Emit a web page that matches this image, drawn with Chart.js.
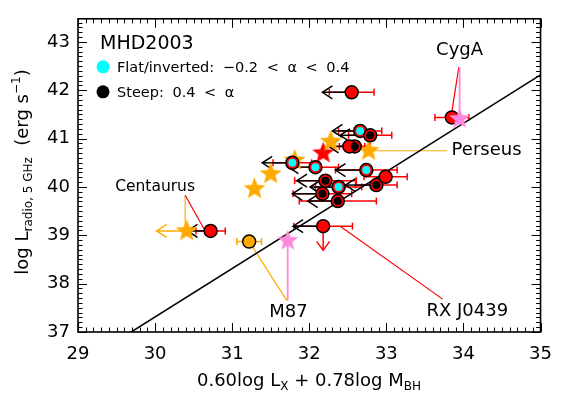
<!DOCTYPE html>
<html>
<head>
<meta charset="utf-8">
<script src="https://cdn.jsdelivr.net/npm/chart.js@4/dist/chart.umd.min.js"></script>
<style>
  html, body { margin: 0; padding: 0; background: #fff; }
</style>
</head>
<body>
<canvas id="myChart" width="564" height="394"></canvas>
<script>
// Graphe MHD2003 : log L_radio vs 0.60 log Lx + 0.78 log Mbh

const FONT = '"DejaVu Sans", sans-serif';

const xTicks = [29, 30, 31, 32, 33, 34, 35];
const yTicks = [37, 38, 39, 40, 41, 42, 43];

// fundamental plane fit (ends)
const fitX = [29.69, 35.0];
const fitY = [37.0, 42.32];

// plain red circles (x error, upper limit arrow tip)
const redX   = [32.55, 32.52, 32.99, 32.18, 30.72, 33.85];
const redY   = [41.96, 40.84, 40.21, 39.19, 39.09, 41.44];
const redErr = [0.29, 0.20, 0.28, 0.38, 0.19, 0.22];
const redLim = [32.17, 32.25, null, 31.79, 30.42, null];

// steep spectrum sources
const steepX   = [32.79, 32.59, 32.87, 32.21, 32.17, 32.37];
const steepY   = [41.07, 40.84, 40.04, 40.13, 39.86, 39.71];
const steepErr = [0.28, 0.20, 0.27, 0.40, 0.38, 0.50];
const steepLim = [32.40, null, 32.47, 31.84, 31.78, 31.98];

// flat / inverted spectrum sources
const flatX   = [32.66, 31.78, 32.08, 32.74, 32.38];
const flatY   = [41.16, 40.50, 40.41, 40.35, 40.00];
const flatErr = [0.28, 0.25, 0.30, 0.40, 0.30];
const flatLim = [32.30, 31.39, 31.73, 32.34, 32.01];

// stars
const orangeStarX = [32.28, 32.77, 31.81, 31.50, 31.29, 30.41];
const orangeStarY = [40.94, 40.75, 40.55, 40.27, 39.96, 39.09];
const redStarX = [32.18];
const redStarY = [40.70];
const pinkStarX = [31.72, 33.95];
const pinkStarY = [38.89, 41.41];

// M87 orange circle
const m87X = [31.22];
const m87Y = [38.87];
const m87Err = [0.16];

// Centaurus orange limit
const cenLimFrom = 30.41;
const cenLimTo = 30.02;
// RX J0439 radio upper limit
const rxLimY = 38.69;

// labels [text, x, y, size]
const labels = [
  ["CygA", 33.95, 42.82, 18],
  ["Perseus", 34.3, 40.75, 18],
  ["Centaurus", 30.0, 40.0, 15.5],
  ["M87", 31.73, 37.4, 18],
  ["RX J0439", 34.05, 37.43, 18]
];

const RED = "#ff0000";
const ORANGE = "#ffaa00";
const PINK = "#ff88dd";
const CYAN = "#00ffff";

function makeStar(r, fill) {
  const c = document.createElement("canvas");
  c.width = c.height = 2 * r + 2;
  const g = c.getContext("2d");
  g.beginPath();
  for (let i = 0; i < 10; i++) {
    const rr = i % 2 === 0 ? r : r * 0.43;
    const a = -Math.PI / 2 + i * Math.PI / 5;
    const px = r + 1 + rr * Math.cos(a);
    const py = r + 1 + rr * Math.sin(a);
    if (i === 0) g.moveTo(px, py); else g.lineTo(px, py);
  }
  g.closePath();
  g.fillStyle = fill;
  g.fill();
  return c;
}

function pts(xs, ys) {
  return xs.map((x, i) => ({ x: x, y: ys[i] }));
}

const circleStyle = {
  pointStyle: "circle",
  pointRadius: 6.5,
  pointBackgroundColor: RED,
  pointBorderColor: "#000",
  pointBorderWidth: 1.5,
  showLine: false
};

const data = {
  datasets: [
    { type: "line", data: pts(fitX, fitY), borderColor: "#000", borderWidth: 1.5, pointRadius: 0, order: 10 },
    { data: pts(orangeStarX, orangeStarY), pointStyle: makeStar(11.5, ORANGE), order: 8 },
    { data: pts(redStarX, redStarY), pointStyle: makeStar(11.5, RED), order: 8 },
    Object.assign({ data: pts(m87X, m87Y), order: 7 }, circleStyle, { pointBackgroundColor: ORANGE }),
    Object.assign({ data: pts(redX, redY), order: 6 }, circleStyle),
    Object.assign({ data: pts(steepX, steepY), order: 6 }, circleStyle),
    Object.assign({ data: pts(flatX, flatY), order: 6 }, circleStyle),
    { data: pts(steepX, steepY), pointRadius: 4, pointBackgroundColor: "#000", pointBorderWidth: 0, order: 5 },
    { data: pts(flatX, flatY), pointRadius: 4, pointBackgroundColor: CYAN, pointBorderWidth: 0, order: 5 },
    { data: pts(pinkStarX, pinkStarY), pointStyle: makeStar(11, PINK), order: 4 }
  ]
};

function line(ctx, x0, y0, x1, y1) {
  ctx.beginPath();
  ctx.moveTo(x0, y0);
  ctx.lineTo(x1, y1);
  ctx.stroke();
}

function errBar(ctx, xs, ys, x, y, e, color) {
  const a = xs.getPixelForValue(x - e), b = xs.getPixelForValue(x + e), py = ys.getPixelForValue(y);
  ctx.strokeStyle = color;
  line(ctx, a, py, b, py);
  line(ctx, a, py - 3.5, a, py + 3.5);
  line(ctx, b, py - 3.5, b, py + 3.5);
}

function leftArrow(ctx, xs, ys, x, y, tip, color) {
  const a = xs.getPixelForValue(x), t = xs.getPixelForValue(tip), py = ys.getPixelForValue(y);
  ctx.strokeStyle = color;
  line(ctx, a, py, t, py);
  ctx.beginPath();
  ctx.moveTo(t + 10, py - 6.5);
  ctx.lineTo(t, py);
  ctx.lineTo(t + 10, py + 6.5);
  ctx.stroke();
}

// text with sub / superscripts: parts = [[text, size, dy]]
function richText(ctx, parts, x, y) {
  let w = 0;
  parts.forEach((p) => { ctx.font = p[1] + "px " + FONT; w += ctx.measureText(p[0]).width; });
  let cx = x - w / 2;
  ctx.textAlign = "left";
  ctx.textBaseline = "alphabetic";
  parts.forEach((p) => {
    ctx.font = p[1] + "px " + FONT;
    ctx.fillText(p[0], cx, y + p[2]);
    cx += ctx.measureText(p[0]).width;
  });
}

const marksPlugin = {
  id: "marks",
  beforeDatasetsDraw(chart) {
    const ctx = chart.ctx, xs = chart.scales.x, ys = chart.scales.y;
    const X = (v) => xs.getPixelForValue(v), Y = (v) => ys.getPixelForValue(v);
    ctx.save();
    ctx.lineWidth = 1.5;
    // red x error bars
    redX.forEach((x, i) => errBar(ctx, xs, ys, x, redY[i], redErr[i], RED));
    steepX.forEach((x, i) => errBar(ctx, xs, ys, x, steepY[i], steepErr[i], RED));
    flatX.forEach((x, i) => errBar(ctx, xs, ys, x, flatY[i], flatErr[i], RED));
    errBar(ctx, xs, ys, m87X[0], m87Y[0], m87Err[0], ORANGE);
    // black upper limits on x
    redX.forEach((x, i) => { if (redLim[i] !== null) leftArrow(ctx, xs, ys, x, redY[i], redLim[i], "#000"); });
    steepX.forEach((x, i) => { if (steepLim[i] !== null) leftArrow(ctx, xs, ys, x, steepY[i], steepLim[i], "#000"); });
    flatX.forEach((x, i) => { if (flatLim[i] !== null) leftArrow(ctx, xs, ys, x, flatY[i], flatLim[i], "#000"); });
    // Centaurus orange limit
    leftArrow(ctx, xs, ys, cenLimFrom, orangeStarY[5], cenLimTo, ORANGE);
    // RX J0439 downward limit
    ctx.strokeStyle = RED;
    const rx = X(redX[3]), ry = Y(rxLimY);
    line(ctx, rx, Y(redY[3]), rx, ry);
    ctx.beginPath();
    ctx.moveTo(rx - 6.5, ry - 9);
    ctx.lineTo(rx, ry);
    ctx.lineTo(rx + 6.5, ry - 9);
    ctx.stroke();

    // leader lines
    ctx.lineWidth = 1.2;
    // CygA
    ctx.strokeStyle = RED;
    line(ctx, X(redX[5]), Y(redY[5]) - 6, X(33.94), Y(42.48));
    ctx.strokeStyle = PINK;
    ctx.lineWidth = 1.8;
    line(ctx, X(pinkStarX[1]), Y(pinkStarY[1]), X(pinkStarX[1]), Y(42.48));
    // M87
    line(ctx, X(pinkStarX[0]), Y(pinkStarY[0]), X(pinkStarX[0]), Y(37.65));
    ctx.lineWidth = 1.2;
    ctx.strokeStyle = ORANGE;
    line(ctx, X(m87X[0]), Y(m87Y[0]), X(31.71), Y(37.65));
    // Perseus
    line(ctx, X(orangeStarX[1]), Y(orangeStarY[1]), X(33.79), Y(orangeStarY[1]));
    // Centaurus
    line(ctx, X(30.39), Y(39.83), X(30.39), Y(orangeStarY[5]));
    ctx.strokeStyle = RED;
    line(ctx, X(30.39), Y(39.83), X(redX[4]) - 2, Y(redY[4]) + 6);
    // RX J0439
    line(ctx, X(32.40), Y(redY[3]), X(33.73), Y(37.68));
    ctx.restore();
  },
  afterDraw(chart) {
    const ctx = chart.ctx, xs = chart.scales.x, ys = chart.scales.y;
    const a = chart.chartArea;
    ctx.save();
    ctx.strokeStyle = "#000";
    ctx.fillStyle = "#000";
    // frame
    ctx.lineWidth = 1.6;
    ctx.strokeRect(a.left, a.top, a.right - a.left, a.bottom - a.top);
    // inward ticks, mirrored on top and right
    ctx.lineWidth = 1;
    for (let v = 29; v <= 35.0001; v += 0.1) {
      const major = Math.abs(v - Math.round(v)) < 1e-6;
      const L = major ? 9 : 4.5;
      const px = Math.round(xs.getPixelForValue(v)) + 0.5;
      line(ctx, px, a.bottom, px, a.bottom - L);
      line(ctx, px, a.top, px, a.top + L);
    }
    for (let v = 37; v <= 43.48; v += 0.1) {
      const major = Math.abs(v - Math.round(v)) < 1e-6;
      const L = major ? 9 : 4.5;
      const py = Math.round(ys.getPixelForValue(v)) + 0.5;
      line(ctx, a.left, py, a.left + L, py);
      line(ctx, a.right, py, a.right - L, py);
    }
    // axis titles
    richText(ctx, [["0.60log L", 18, 0], ["X", 12, 4], [" + 0.78log M", 18, 0], ["BH", 12, 4]], 309, 386);
    ctx.save();
    ctx.translate(28, 172);
    ctx.rotate(-Math.PI / 2);
    richText(ctx, [["log L", 18, 0], ["radio, 5 GHz", 12, 4], ["  (erg s", 18, 0], ["\u22121", 12, -8], [")", 18, 0]], 0, 0);
    ctx.restore();
    // legend
    ctx.textAlign = "left";
    ctx.textBaseline = "middle";
    ctx.font = "19px " + FONT;
    ctx.fillText("MHD2003", a.left + 22, a.top + 25);
    ctx.fillStyle = CYAN;
    ctx.beginPath(); ctx.arc(a.left + 25, a.top + 48, 6.5, 0, 2 * Math.PI); ctx.fill();
    ctx.fillStyle = "#000";
    ctx.beginPath(); ctx.arc(a.left + 25, a.top + 73, 6.5, 0, 2 * Math.PI); ctx.fill();
    ctx.font = "14.5px " + FONT;
    ctx.wordSpacing = "4px";
    ctx.fillText("Flat/inverted: \u22120.2 < \u03b1 < 0.4", a.left + 39, a.top + 49);
    ctx.fillText("Steep: 0.4 < \u03b1", a.left + 39, a.top + 74);
    ctx.wordSpacing = "0px";
    // source labels
    ctx.textAlign = "center";
    labels.forEach((l) => {
      ctx.font = l[3] + "px " + FONT;
      ctx.fillText(l[0], xs.getPixelForValue(l[1]), ys.getPixelForValue(l[2]));
    });
    ctx.restore();
  }
};

const config = {
  type: "scatter",
  data: data,
  options: {
    responsive: false,
    animation: false,
    devicePixelRatio: 1,
    layout: { padding: { left: 0, right: 13, top: 10, bottom: 0 } },
    plugins: { legend: { display: false }, tooltip: { enabled: false } },
    scales: {
      x: {
        type: "linear",
        min: 29,
        max: 35,
        afterFit: (s) => { s.height = 62; },
        afterBuildTicks: (s) => { s.ticks = xTicks.map((v) => ({ value: v })); },
        grid: { display: false, drawTicks: false },
        border: { display: false },
        ticks: { padding: 12, color: "#000", font: { family: FONT, size: 18 }, maxRotation: 0 }
      },
      y: {
        type: "linear",
        min: 37,
        max: 43.48,
        afterFit: (s) => { s.width = 78; },
        afterBuildTicks: (s) => { s.ticks = yTicks.map((v) => ({ value: v })); },
        grid: { display: false, drawTicks: false },
        border: { display: false },
        ticks: { padding: 8, color: "#000", font: { family: FONT, size: 18 } }
      }
    }
  },
  plugins: [marksPlugin]
};

const context = document.getElementById("myChart").getContext("2d");
const chart = new Chart(context, config);
</script>
</body>
</html>
